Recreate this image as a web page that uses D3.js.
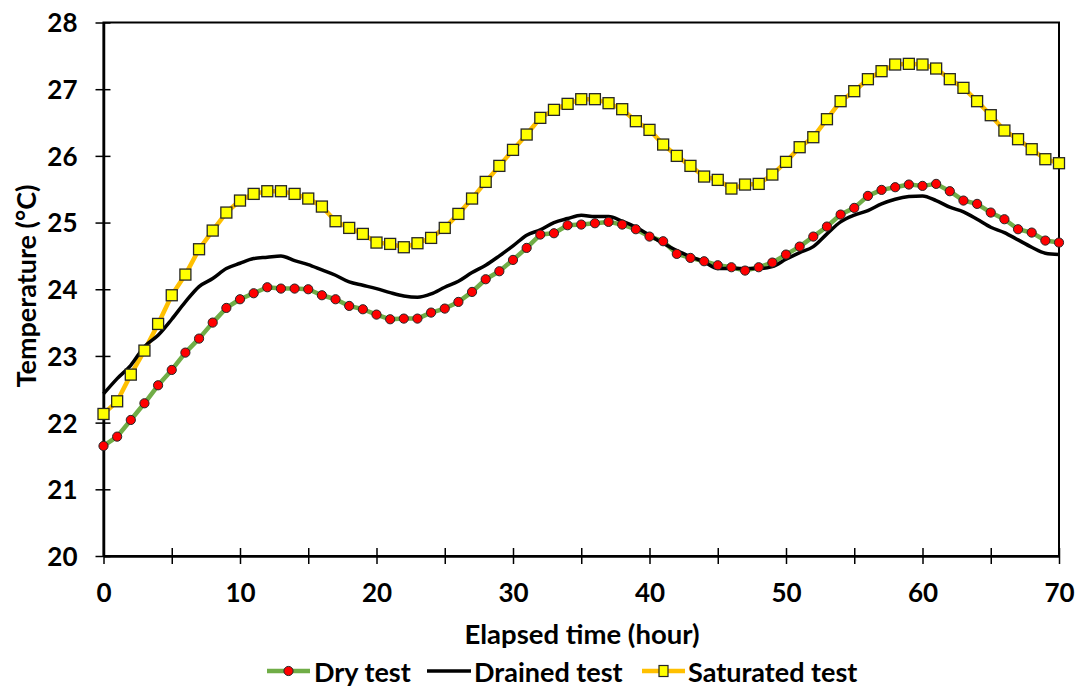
<!DOCTYPE html>
<html>
<head>
<meta charset="utf-8">
<script src="https://cdn.jsdelivr.net/npm/d3@7"></script>
<style>
  html, body { margin: 0; padding: 0; background: #fff; }
  svg { display: block; }
  text { font-family: Lato, "Open Sans", sans-serif; font-weight: bold; fill: #000; }
</style>
</head>
<body>
<svg id="chart" width="1082" height="686"></svg>
<script>
// ---- data ----
const hours = d3.range(0, 71); // 0..70 hourly readings
const dryTest = [21.65,21.79,22.04,22.29,22.56,22.79,23.05,23.26,23.50,23.72,
  23.85,23.94,24.03,24.01,24.01,24.00,23.91,23.85,23.75,23.70,
  23.62,23.55,23.56,23.56,23.65,23.71,23.81,23.96,24.15,24.27,
  24.44,24.62,24.82,24.84,24.96,24.97,24.99,25.01,24.97,24.90,
  24.79,24.72,24.53,24.47,24.42,24.36,24.33,24.28,24.33,24.40,
  24.52,24.64,24.79,24.94,25.12,25.22,25.40,25.49,25.53,25.57,
  25.55,25.58,25.47,25.33,25.28,25.15,25.05,24.90,24.85,24.73,24.70];
const drainedTest = [22.43,22.66,22.86,23.14,23.31,23.55,23.81,24.04,24.16,24.31,
  24.39,24.46,24.48,24.50,24.43,24.37,24.29,24.21,24.11,24.06,
  24.01,23.95,23.90,23.88,23.93,24.03,24.12,24.25,24.36,24.50,
  24.65,24.81,24.89,25.00,25.06,25.11,25.09,25.09,25.02,24.93,
  24.81,24.69,24.58,24.49,24.41,24.31,24.31,24.31,24.31,24.34,
  24.45,24.55,24.64,24.83,25.01,25.11,25.18,25.28,25.35,25.39,
  25.40,25.33,25.23,25.16,25.05,24.93,24.85,24.74,24.63,24.54,24.52];
const saturatedTest = [22.13,22.32,22.72,23.08,23.48,23.91,24.22,24.60,24.88,25.15,
  25.33,25.43,25.47,25.47,25.43,25.36,25.24,25.02,24.92,24.83,
  24.70,24.68,24.63,24.69,24.77,24.92,25.13,25.36,25.61,25.85,
  26.09,26.32,26.57,26.69,26.78,26.85,26.85,26.79,26.70,26.52,
  26.39,26.17,26.00,25.85,25.69,25.64,25.51,25.57,25.58,25.72,
  25.91,26.13,26.28,26.55,26.82,26.97,27.15,27.27,27.37,27.38,
  27.37,27.31,27.15,27.02,26.82,26.61,26.38,26.25,26.10,25.95,25.89];
const xTickLabels = [0, 10, 20, 30, 40, 50, 60, 70];
const xMinorTicks = [0, 5, 10, 15, 20, 25, 30, 35, 40, 45, 50, 55, 60, 65, 70];
const yTickLabels = [20, 21, 22, 23, 24, 25, 26, 27, 28];
const seriesNames = ["Dry test", "Drained test", "Saturated test"];
const xTitle = "Elapsed time (hour)";
const yTitle = "Temperature (°C)";

// ---- layout ----
const svg = d3.select("#chart");
const L = 103.5, R = 1059, T = 22.5, B = 556;
const x = d3.scaleLinear().domain([0, 70]).range([L, R]);
const y = d3.scaleLinear().domain([20, 28]).range([B, T]);

// frame (top/right)
svg.append("rect").attr("x", L).attr("y", T).attr("width", R - L).attr("height", B - T)
  .attr("fill", "none").attr("stroke", "#000").attr("stroke-width", 2);

// Y axis
const yAxis = d3.axisLeft(y).tickValues(yTickLabels).tickSizeInner(8).tickSizeOuter(0).tickPadding(18).tickFormat(d3.format("d"));
const gy = svg.append("g").attr("transform", `translate(${L},0)`).call(yAxis);
gy.select(".domain").attr("stroke", "#000").attr("stroke-width", 2.5);
gy.selectAll(".tick line").attr("stroke", "#000").attr("stroke-width", 1.5).attr("x2", -8).attr("x1", 7);
gy.selectAll(".tick text").attr("font-size", 26).attr("font-family", "Lato, sans-serif").attr("font-weight", "bold").attr("dy", "0.36em");

// X axis
const xAxis = d3.axisBottom(x).tickValues(xMinorTicks).tickSizeInner(8).tickSizeOuter(0).tickPadding(19)
  .tickFormat(d => xTickLabels.includes(d) ? d3.format("d")(d) : "");
const gx = svg.append("g").attr("transform", `translate(0,${B})`).call(xAxis);
gx.select(".domain").attr("stroke", "#000").attr("stroke-width", 2.5);
gx.selectAll(".tick line").attr("stroke", "#000").attr("stroke-width", 1.5).attr("y1", -8).attr("y2", 8);
gx.selectAll(".tick text").attr("font-size", 26).attr("font-family", "Lato, sans-serif").attr("font-weight", "bold").attr("dy", "0.72em");

// Axis titles
svg.append("text").attr("x", 582).attr("y", 633).attr("text-anchor", "middle")
  .attr("dominant-baseline", "central").attr("font-size", 27.5).text(xTitle);
svg.append("text").attr("transform", `translate(25,${286}) rotate(-90)`).attr("text-anchor", "middle")
  .attr("dominant-baseline", "central").attr("font-size", 27).text(yTitle);

// lines
const line = d3.line().x((d, i) => x(hours[i])).y(d => y(d));
const plot = svg.append("g");

plot.append("path").datum(saturatedTest).attr("d", line).attr("fill", "none")
  .attr("stroke", "#FFC000").attr("stroke-width", 4.5).attr("stroke-linejoin", "round");
plot.append("path").datum(dryTest).attr("d", line).attr("fill", "none")
  .attr("stroke", "#70AD47").attr("stroke-width", 4.5).attr("stroke-linejoin", "round");
plot.append("path").datum(drainedTest).attr("d", d3.line().x((d, i) => x(hours[i])).y(d => y(d)).curve(d3.curveMonotoneX))
  .attr("fill", "none").attr("stroke", "#000").attr("stroke-width", 3.5);

const sq = 11;
plot.append("g").selectAll("rect").data(saturatedTest).join("rect")
  .attr("x", (d, i) => x(hours[i]) - sq / 2).attr("y", d => y(d) - sq / 2)
  .attr("width", sq).attr("height", sq)
  .attr("fill", "#FFFF00").attr("stroke", "#262626").attr("stroke-width", 1.3);
plot.append("g").selectAll("circle").data(dryTest).join("circle")
  .attr("cx", (d, i) => x(hours[i])).attr("cy", d => y(d)).attr("r", 4.6)
  .attr("fill", "#FF0000").attr("stroke", "#262626").attr("stroke-width", 1);

// legend
const legY = 671;
const leg = svg.append("g");
const items = [
  { name: seriesNames[0], x1: 267, x2: 310, color: "#70AD47", w: 4.5, marker: "circle", tx: 314 },
  { name: seriesNames[1], x1: 427, x2: 471, color: "#000", w: 3.5, marker: null, tx: 474 },
  { name: seriesNames[2], x1: 642, x2: 685, color: "#FFC000", w: 4.5, marker: "rect", tx: 688 }
];
items.forEach(it => {
  leg.append("line").attr("x1", it.x1).attr("x2", it.x2).attr("y1", legY).attr("y2", legY)
    .attr("stroke", it.color).attr("stroke-width", it.w);
  const cx = (it.x1 + it.x2) / 2;
  if (it.marker === "circle") {
    leg.append("circle").attr("cx", cx).attr("cy", legY).attr("r", 4.6)
      .attr("fill", "#FF0000").attr("stroke", "#262626").attr("stroke-width", 1);
  } else if (it.marker === "rect") {
    leg.append("rect").attr("x", cx - 4.5).attr("y", legY - 5.5).attr("width", 9).attr("height", 11)
      .attr("fill", "#FFFF00").attr("stroke", "#262626").attr("stroke-width", 1.2);
  }
  leg.append("text").attr("x", it.tx).attr("y", legY).attr("dominant-baseline", "central")
    .attr("font-size", 27).text(it.name);
});
</script>
</body>
</html>
